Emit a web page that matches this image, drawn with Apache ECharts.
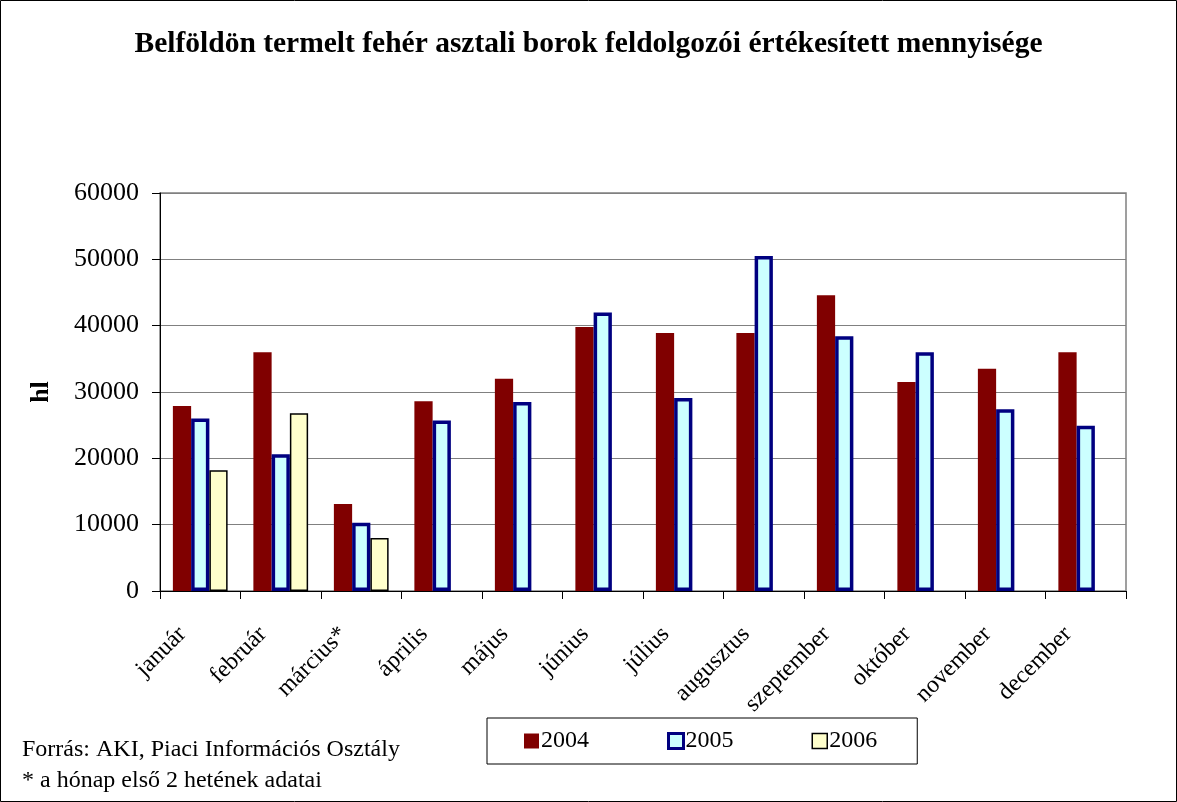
<!DOCTYPE html>
<html>
<head>
<meta charset="utf-8">
<script src="https://cdn.jsdelivr.net/npm/echarts@6/dist/echarts.min.js"></script>
<style>
  html, body { margin: 0; padding: 0; background: #fff; }
  #chart { width: 1177px; height: 802px; }
</style>
</head>
<body>
<div id="chart"></div>
<script>
// honapok
var months = ['január', 'február', 'március*', 'április', 'május', 'június',
  'július', 'augusztus', 'szeptember', 'október', 'november', 'december'];

// hl, leolvasott ertekek
var y2004 = [27900, 36000, 13100, 28600, 32000, 39800, 38900, 38900, 44600, 31500, 33500, 36000];
var y2005 = [26000, 20600, 10300, 25700, 28500, 42000, 29100, 50500, 38400, 36000, 27400, 24900];
var y2006 = [18200, 26800, 8000, null, null, null, null, null, null, null, null, null];

var seriesNames = ['2004', '2005', '2006'];
var yTicks = [0, 10000, 20000, 30000, 40000, 50000, 60000];

var serif = '"Liberation Serif", "Times New Roman", serif';

var myChart = echarts.init(document.getElementById('chart'));

var option = {
  backgroundColor: '#fff',
  animation: false,
  textStyle: { fontFamily: serif, color: '#000' },
  title: {
    text: 'Belföldön termelt fehér asztali borok feldolgozói értékesített mennyisége',
    left: 'center',
    top: 24,
    textStyle: { fontFamily: serif, fontSize: 29.5, fontWeight: 'bold', color: '#000' }
  },
  grid: { left: 160, right: 51, top: 193, bottom: 211, containLabel: false },
  legend: {
    data: [
      { name: seriesNames[0], itemStyle: { color: '#800000', borderWidth: 0 } },
      { name: seriesNames[1], itemStyle: { color: '#CCFFFF', borderColor: '#000080', borderWidth: 3 } },
      { name: seriesNames[2], itemStyle: { color: '#FFFFCC', borderColor: '#000', borderWidth: 1.5 } }
    ],
    left: 487,
    top: 718,
    padding: [11, 40, 11, 37],
    itemGap: 78,
    itemWidth: 15,
    itemHeight: 15,
    borderColor: '#000',
    borderWidth: 1,
    icon: 'rect',
    textStyle: { fontFamily: serif, fontSize: 24, color: '#000', padding: [0, 0, 0, -3] }
  },
  xAxis: {
    type: 'category',
    data: months,
    axisLine: { lineStyle: { color: '#000', width: 1 } },
    axisTick: { show: true, length: 8, alignWithLabel: false, lineStyle: { color: '#000' } },
    axisLabel: {
      rotate: 45,
      interval: 0,
      margin: 22,
      padding: [0, 25, 0, 0],
      fontFamily: serif,
      fontSize: 24,
      color: '#000'
    }
  },
  yAxis: {
    type: 'value',
    min: yTicks[0],
    max: yTicks[yTicks.length - 1],
    interval: 10000,
    name: 'hl',
    nameLocation: 'middle',
    nameGap: 106,
    nameRotate: 90,
    nameTextStyle: { fontFamily: serif, fontSize: 26, fontWeight: 'bold', color: '#000' },
    axisLine: { show: true, lineStyle: { color: '#000', width: 1 } },
    axisTick: { show: true, length: 8, inside: false, lineStyle: { color: '#000' } },
    axisLabel: {
      margin: 21,
      fontFamily: serif,
      fontSize: 26,
      color: '#000',
      formatter: function (v) { return String(v); }
    },
    splitLine: { show: true, lineStyle: { color: '#808080', width: 1 } }
  },
  series: [
    {
      name: seriesNames[0],
      type: 'bar',
      data: y2004,
      barGap: '0%',
      barCategoryGap: '32%',
      itemStyle: { color: '#800000' }
    },
    {
      name: seriesNames[1],
      type: 'bar',
      data: y2005,
      itemStyle: { color: '#CCFFFF', borderColor: '#000080', borderWidth: 3.5 }
    },
    {
      name: seriesNames[2],
      type: 'bar',
      data: y2006,
      itemStyle: { color: '#FFFFCC', borderColor: '#000', borderWidth: 1.5 }
    }
  ],
  graphic: [
    {
      type: 'rect',
      shape: { x: 0.5, y: 0.5, width: 1176, height: 801 },
      style: { fill: null, stroke: '#000', lineWidth: 1 },
      silent: true
    },
    {
      type: 'rect',
      shape: { x: 160, y: 193, width: 966, height: 398 },
      style: { fill: null, stroke: '#808080', lineWidth: 1.5 },
      silent: true,
      z: 0
    },
    {
      type: 'text',
      x: 22,
      y: 750,
      style: { text: 'Forrás: AKI, Piaci Információs Osztály', font: '24px ' + serif, fill: '#000', verticalAlign: 'middle' }
    },
    {
      type: 'text',
      x: 22,
      y: 781,
      style: { text: '* a hónap első 2 hetének adatai', font: '24px ' + serif, fill: '#000', verticalAlign: 'middle' }
    }
  ]
};

myChart.setOption(option);
window.addEventListener('resize', function () {
  myChart.resize();
});
</script>
</body>
</html>
